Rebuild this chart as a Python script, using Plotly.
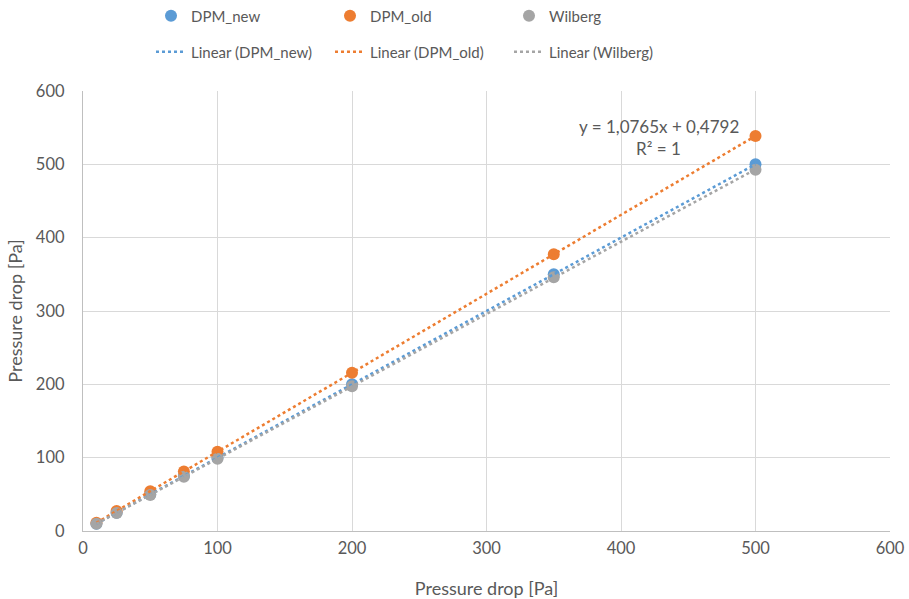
import numpy as np
import plotly.graph_objects as go

x_vals = [10, 25, 50, 75, 100, 200, 350, 500]
dpm_new = [10, 25, 50, 75, 100, 200, 350, 500]
dpm_old = [11.2, 27.4, 54.3, 81.2, 108.1, 215.8, 377.3, 538.7]
wilberg = [9.8, 24.6, 49.2, 73.9, 98.5, 197.5, 346, 492.5]

names = ["DPM_new", "DPM_old", "Wilberg"]
series = [dpm_new, dpm_old, wilberg]
colors = ["#5B9BD5", "#ED7D31", "#A5A5A5"]

font_fam = "Lato, 'Open Sans', sans-serif"
txt_col = "#595959"

fig = go.Figure()
for n, s, c in zip(names, series, colors):
    fig.add_trace(go.Scatter(x=x_vals, y=s, mode="markers", name=n,
                             marker=dict(color=c, size=12), legend="legend"))

for n, s, c in zip(names, series, colors):
    k, b = np.polyfit(x_vals, s, 1)
    xs = np.array([min(x_vals), max(x_vals)])
    fig.add_trace(go.Scatter(x=xs, y=k * xs + b, mode="lines", name=f"Linear ({n})",
                             line=dict(color=c, width=2.5, dash="dot"), legend="legend2"))

fig.add_annotation(x=428, y=551, text="y = 1,0765x + 0,4792", showarrow=False,
                   font=dict(size=17, color=txt_col, family=font_fam))
fig.add_annotation(x=428, y=521, text="R² = 1", showarrow=False,
                   font=dict(size=17, color=txt_col, family=font_fam))

axis_common = dict(range=[0, 600], dtick=100, showgrid=True, gridcolor="#D9D9D9",
                   gridwidth=1.3, zeroline=False, showline=True, linecolor="#BFBFBF",
                   linewidth=1.3, ticks="", automargin=False,
                   tickfont=dict(size=16.5, color=txt_col, family=font_fam))
fig.update_xaxes(**axis_common, ticklabelstandoff=2,
                 title=dict(text="Pressure drop [Pa]", standoff=25,
                            font=dict(size=18, color=txt_col, family=font_fam)))
fig.update_yaxes(**axis_common, ticklabelstandoff=14,
                 title=dict(text="Pressure drop [Pa]", standoff=8,
                            font=dict(size=18, color=txt_col, family=font_fam)))

leg_common = dict(orientation="h", xref="container", yref="container", xanchor="left",
                  yanchor="middle", entrywidth=134, entrywidthmode="pixels",
                  font=dict(size=15, color=txt_col, family=font_fam),
                  bgcolor="rgba(0,0,0,0)", itemclick=False)
fig.update_layout(
    width=909, height=599,
    margin=dict(l=83, r=19, t=91, b=68),
    plot_bgcolor="white", paper_bgcolor="white",
    font=dict(family=font_fam, color=txt_col),
    legend=dict(**leg_common, x=151 / 909, y=1 - 16 / 599),
    legend2=dict(**leg_common, x=151 / 909, y=1 - 52 / 599),
    showlegend=True,
)
fig.write_html("out.html")
